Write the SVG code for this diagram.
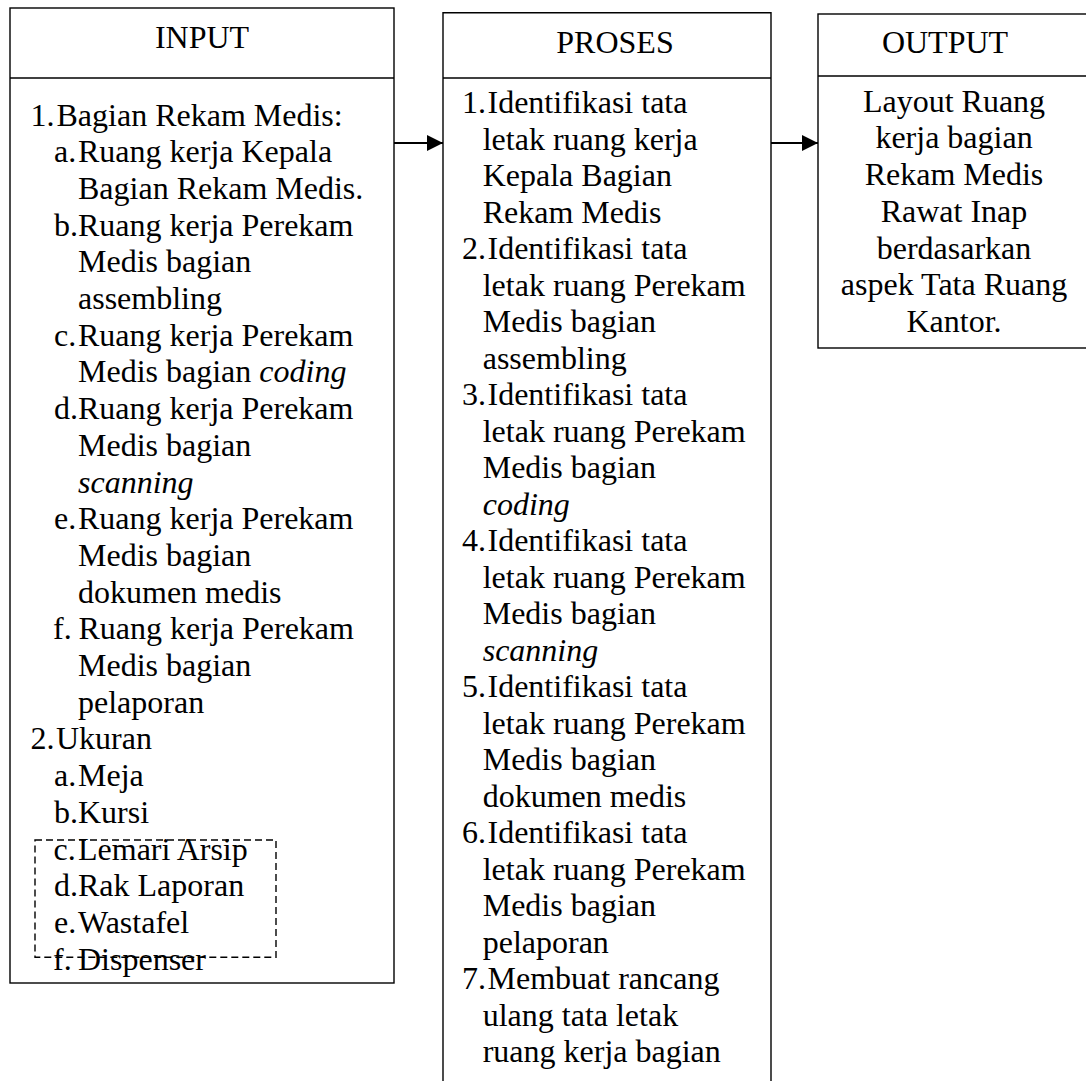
<svg xmlns="http://www.w3.org/2000/svg" width="1086" height="1081" viewBox="0 0 1086 1081">
<style>
.box{fill:#fff;stroke:#000;stroke-width:1.4}
.div{stroke:#000;stroke-width:1.4}
.t{font-family:"Liberation Serif","Times New Roman",serif;font-size:32px;fill:#000}
.c{text-anchor:middle}
.i{font-style:italic}
.dash{fill:none;stroke:#000;stroke-width:1.4;stroke-dasharray:7,4}
.conn{stroke:#000;stroke-width:2;fill:none}
</style>
<defs>
<marker id="arr" viewBox="0 0 16 16" markerWidth="16" markerHeight="16" refX="16" refY="8" orient="auto" markerUnits="userSpaceOnUse">
<path d="M0,0 L16,8 L0,16 z" fill="#000"/>
</marker>
</defs>
<rect width="1086" height="1081" fill="#fff"/>

<g id="input">
<rect class="box" x="10" y="8" width="384" height="975"/>
<line class="div" x1="10" y1="78" x2="394" y2="78"/>
<text class="t c" x="202" y="48.3">INPUT</text>
<text class="t" x="30.5" y="125.5">1.<tspan x="56.5">Bagian Rekam Medis:</tspan></text>
<text class="t" x="54" y="162.2">a.<tspan x="78">Ruang kerja Kepala</tspan></text>
<text class="t" x="78" y="198.9">Bagian Rekam Medis.</text>
<text class="t" x="54" y="235.6">b.<tspan x="78">Ruang kerja Perekam</tspan></text>
<text class="t" x="78" y="272.3">Medis bagian</text>
<text class="t" x="78" y="309">assembling</text>
<text class="t" x="54" y="345.7">c.<tspan x="78">Ruang kerja Perekam</tspan></text>
<text class="t" x="78" y="382.4">Medis bagian <tspan class="i">coding</tspan></text>
<text class="t" x="54" y="419.1">d.<tspan x="78">Ruang kerja Perekam</tspan></text>
<text class="t" x="78" y="455.8">Medis bagian</text>
<text class="t i" x="78" y="492.5">scanning</text>
<text class="t" x="54" y="529.2">e.<tspan x="78">Ruang kerja Perekam</tspan></text>
<text class="t" x="78" y="565.9">Medis bagian</text>
<text class="t" x="78" y="602.6">dokumen medis</text>
<text class="t" x="53" y="639.3">f.<tspan x="78.5">Ruang kerja Perekam</tspan></text>
<text class="t" x="78" y="676">Medis bagian</text>
<text class="t" x="78" y="712.7">pelaporan</text>
<text class="t" x="30.5" y="749.4">2.<tspan x="56">Ukuran</tspan></text>
<text class="t" x="54" y="786.1">a.<tspan x="78">Meja</tspan></text>
<text class="t" x="54" y="822.8">b.<tspan x="78">Kursi</tspan></text>
<text class="t" x="53.5" y="859.5">c.<tspan x="78">Lemari Arsip</tspan></text>
<text class="t" x="54" y="896.2">d.<tspan x="78">Rak Laporan</tspan></text>
<text class="t" x="54" y="932.9">e.<tspan x="78">Wastafel</tspan></text>
<text class="t" x="53" y="969.6">f.<tspan x="78">Dispenser</tspan></text>
<rect class="dash" x="35" y="840" width="241" height="117.3"/>
</g>

<g id="proses">
<path class="box" d="M443,1090 L443,12.7 L771,12.7 L771,1090"/>
<line class="div" x1="443" y1="78" x2="771" y2="78"/>
<text class="t c" x="615" y="53.3">PROSES</text>
<text class="t" x="462" y="113.3">1.<tspan x="487.5">Identifikasi tata</tspan></text>
<text class="t" x="482.7" y="149.8">letak ruang kerja</text>
<text class="t" x="482.7" y="186.3">Kepala Bagian</text>
<text class="t" x="482.7" y="222.8">Rekam Medis</text>
<text class="t" x="462" y="259.3">2.<tspan x="487.5">Identifikasi tata</tspan></text>
<text class="t" x="482.7" y="295.8">letak ruang Perekam</text>
<text class="t" x="482.7" y="332.3">Medis bagian</text>
<text class="t" x="482.7" y="368.8">assembling</text>
<text class="t" x="462" y="405.3">3.<tspan x="487.5">Identifikasi tata</tspan></text>
<text class="t" x="482.7" y="441.8">letak ruang Perekam</text>
<text class="t" x="482.7" y="478.3">Medis bagian</text>
<text class="t i" x="482.7" y="514.8">coding</text>
<text class="t" x="462" y="551.3">4.<tspan x="487.5">Identifikasi tata</tspan></text>
<text class="t" x="482.7" y="587.8">letak ruang Perekam</text>
<text class="t" x="482.7" y="624.3">Medis bagian</text>
<text class="t i" x="482.7" y="660.8">scanning</text>
<text class="t" x="462" y="697.3">5.<tspan x="487.5">Identifikasi tata</tspan></text>
<text class="t" x="482.7" y="733.8">letak ruang Perekam</text>
<text class="t" x="482.7" y="770.3">Medis bagian</text>
<text class="t" x="482.7" y="806.8">dokumen medis</text>
<text class="t" x="462" y="843.3">6.<tspan x="487.5">Identifikasi tata</tspan></text>
<text class="t" x="482.7" y="879.8">letak ruang Perekam</text>
<text class="t" x="482.7" y="916.3">Medis bagian</text>
<text class="t" x="482.7" y="952.8">pelaporan</text>
<text class="t" x="462" y="989.3">7.<tspan x="487.5">Membuat rancang</tspan></text>
<text class="t" x="482.7" y="1025.8">ulang tata letak</text>
<text class="t" x="482.7" y="1062.3">ruang kerja bagian</text>
</g>

<g id="output">
<rect class="box" x="818" y="14" width="280" height="334"/>
<line class="div" x1="818" y1="76" x2="1098" y2="76"/>
<text class="t c" x="945" y="53.3">OUTPUT</text>
<text class="t c" x="954" y="111.7">Layout Ruang</text>
<text class="t c" x="954" y="148.4">kerja bagian</text>
<text class="t c" x="954" y="185.1">Rekam Medis</text>
<text class="t c" x="954" y="221.8">Rawat Inap</text>
<text class="t c" x="954" y="258.5">berdasarkan</text>
<text class="t c" x="954" y="295.2">aspek Tata Ruang</text>
<text class="t c" x="954" y="331.9">Kantor.</text>
</g>

<g id="connectors">
<line class="conn" x1="394" y1="143" x2="443" y2="143" marker-end="url(#arr)"/>
<line class="conn" x1="771" y1="143" x2="818" y2="143" marker-end="url(#arr)"/>
</g>
</svg>
